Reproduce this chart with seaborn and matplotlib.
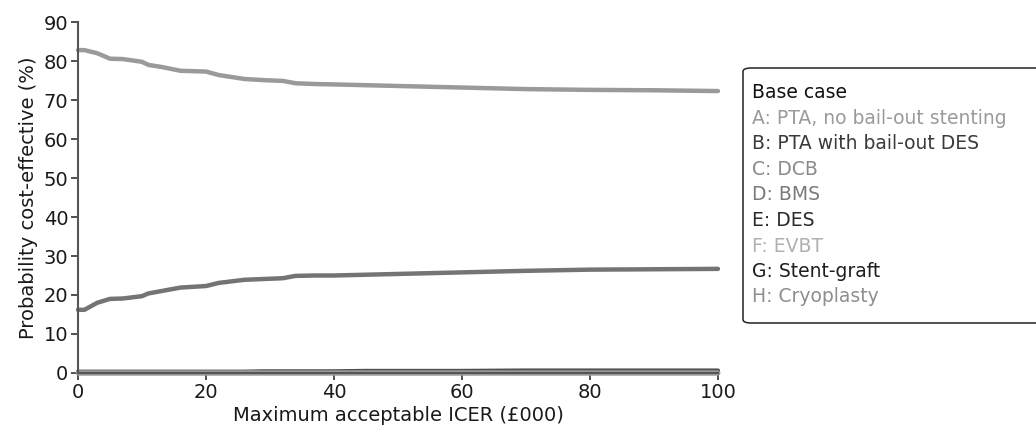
import matplotlib
matplotlib.use("Agg")
import matplotlib.pyplot as plt
import seaborn as sns
import pandas as pd
from matplotlib.patches import FancyBboxPatch

# Willingness-to-pay thresholds (£000)
icer = [0, 1, 3, 5, 7, 10, 11, 13, 16, 20, 22, 24, 26, 29, 32, 34, 37, 40, 45, 50, 60, 70, 80, 90, 100]

# Probability cost-effective (%) per strategy
pta_no_bailout = [82.8, 82.8, 82.0, 80.6, 80.5, 79.8, 79.0, 78.5, 77.5, 77.3, 76.4, 75.9, 75.4, 75.1, 74.9,
                  74.3, 74.1, 74.0, 73.8, 73.6, 73.2, 72.8, 72.6, 72.5, 72.3]
pta_bailout_des = [16.2, 16.2, 18.0, 19.0, 19.1, 19.7, 20.4, 21.0, 21.9, 22.3, 23.1, 23.5, 23.9, 24.1, 24.3,
                   24.9, 25.0, 25.0, 25.2, 25.4, 25.8, 26.2, 26.5, 26.6, 26.7]
dcb = [0.0] * len(icer)
bms = [0.0] * len(icer)
des = [0.3, 0.3, 0.3, 0.3, 0.3, 0.3, 0.3, 0.3, 0.3, 0.3, 0.3, 0.3, 0.3, 0.4, 0.4,
       0.4, 0.4, 0.4, 0.5, 0.5, 0.5, 0.6, 0.6, 0.6, 0.6]
evbt = [0.0] * len(icer)
stent_graft = [0.1] * len(icer)
cryoplasty = [0.0] * len(icer)

labels = ["A: PTA, no bail-out stenting", "B: PTA with bail-out DES", "C: DCB", "D: BMS",
          "E: DES", "F: EVBT", "G: Stent-graft", "H: Cryoplasty"]
series = [pta_no_bailout, pta_bailout_des, dcb, bms, des, evbt, stent_graft, cryoplasty]
colors = ["#9a9a9a", "#3a3a3a", "#8a8a8a", "#7a7a7a", "#2a2a2a", "#b0b0b0", "#1e1e1e", "#8e8e8e"]
line_colors = ["#9a9a9a", "#747476", "#9a9a9a", "#9a9a9a", "#505050", "#a0a0a0", "#9a9a9a", "#9a9a9a"]

rows = []
for lab, vals in zip(labels, series):
    for x, v in zip(icer, vals):
        rows.append({"icer": x, "prob": v, "strategy": lab})
df = pd.DataFrame(rows)

sns.set_style("white")
plt.rcParams["font.family"] = ["DejaVu Sans"]

fig = plt.figure(figsize=(10.36, 4.32), dpi=100)
ax = fig.add_axes([0.0753, 0.1366, 0.6177, 0.8124])

# Dark near-zero line first, lighter zero lines over it, then the two main curves
draw_order = [4, 2, 3, 5, 7, 6, 0, 1]
order_labels = [labels[i] for i in draw_order]
palette = {labels[i]: line_colors[i] for i in range(len(labels))}
sns.lineplot(data=df, x="icer", y="prob", hue="strategy", hue_order=order_labels,
             palette=palette, linewidth=3.2, legend=False, ax=ax, clip_on=False)

ax.set_xlim(0, 100)
ax.set_ylim(0, 90)
ax.set_xticks([0, 20, 40, 60, 80, 100])
ax.set_yticks(range(0, 91, 10))
ax.tick_params(axis="both", which="both", direction="out", length=5, width=1.2,
               color="#333333", labelsize=14, labelcolor="#1a1a1a", pad=2, left=True, bottom=True)
for side in ["top", "right"]:
    ax.spines[side].set_visible(False)
for side in ["left", "bottom"]:
    ax.spines[side].set_color("#555555")
    ax.spines[side].set_linewidth(1.5)
ax.set_xlabel("Maximum acceptable ICER (£000)", fontsize=14, color="#1a1a1a", labelpad=3)
ax.set_ylabel("Probability cost-effective (%)", fontsize=14, color="#1a1a1a", labelpad=4)

# Legend panel with coloured text entries
box = FancyBboxPatch((743 / 1036, (432 - 323) / 432), 0.32, (323 - 68) / 432,
                     boxstyle="round,pad=0,rounding_size=0.008", transform=fig.transFigure,
                     facecolor="white", edgecolor="#222222", linewidth=1.1, clip_on=False)
fig.patches.append(box)
fig.text(752 / 1036, 1 - 93 / 432, "Base case", fontsize=13.5, color="#111111", va="center")
for i, (lab, c) in enumerate(zip(labels, colors)):
    fig.text(752 / 1036, 1 - (118.5 + 25.5 * i) / 432, lab, fontsize=13.5, color=c, va="center")

fig.savefig("out.png", dpi=100)
